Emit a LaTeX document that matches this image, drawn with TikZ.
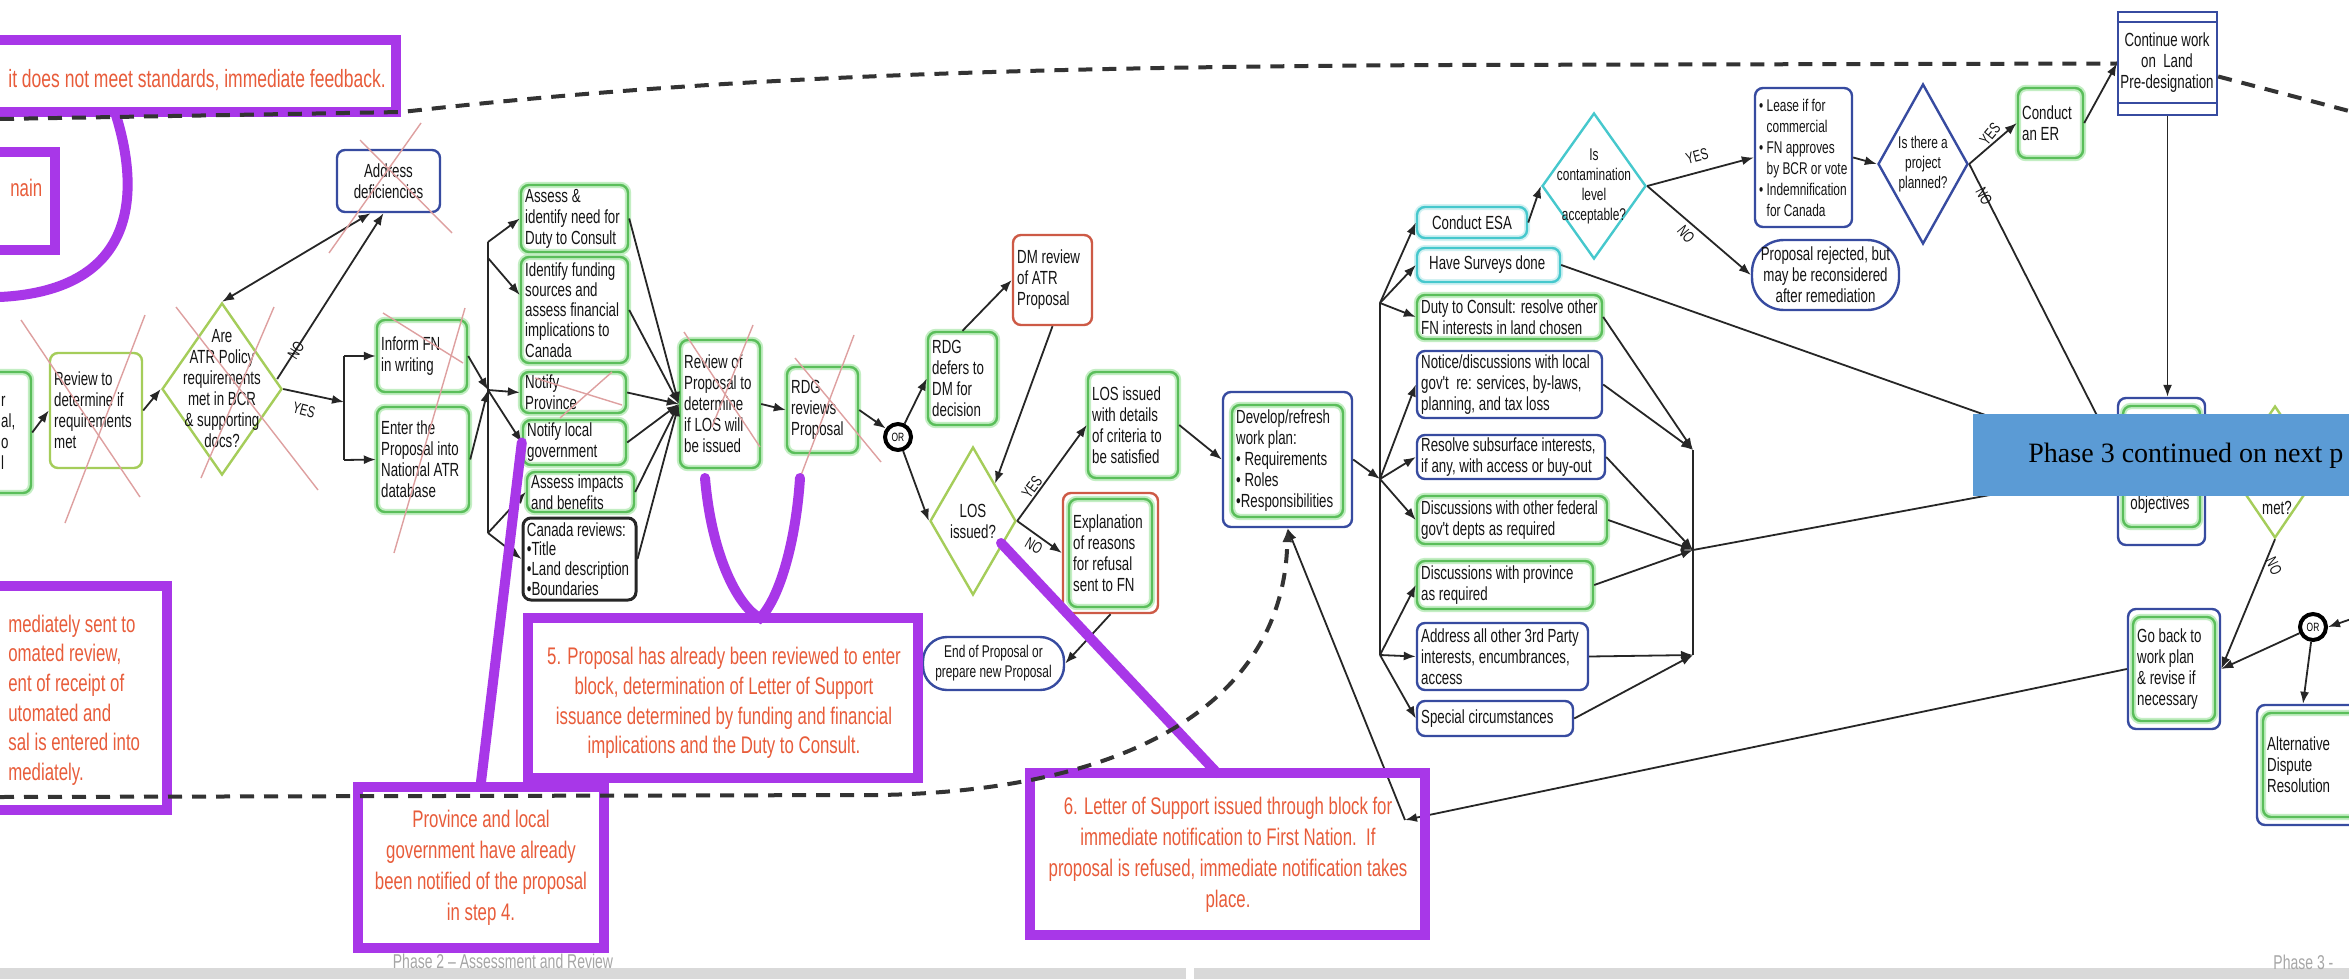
\documentclass[tikz,border=0pt]{standalone}
\usepackage{fontspec}
\usetikzlibrary{shapes.geometric,arrows.meta,calc}
\newfontfamily\nar{Liberation Sans}[FakeStretch=0.7]
\newfontfamily\serifb{Liberation Serif}
\definecolor{cGreen}{RGB}{90,190,90}
\definecolor{cGlow}{RGB}{195,238,195}
\definecolor{cYG}{RGB}{165,205,90}
\definecolor{cBlue}{RGB}{55,75,160}
\definecolor{cCyan}{RGB}{70,200,205}
\definecolor{cRed}{RGB}{205,90,70}
\definecolor{cPurple}{RGB}{168,55,232}
\definecolor{cAnno}{RGB}{232,92,58}
\definecolor{cX}{RGB}{222,160,160}
\definecolor{cBan}{RGB}{91,155,213}
\definecolor{cText}{RGB}{20,20,20}
\tikzset{
 bx/.style={draw, rounded corners=4pt, line width=1.2pt, inner sep=0pt},
 gbx/.style={bx, draw=cGreen, preaction={draw=cGlow, line width=3.2pt}},
 ygbx/.style={bx, draw=cYG},
 bbx/.style={bx, draw=cBlue},
 cbx/.style={bx, draw=cCyan, preaction={draw=cCyan!25, line width=3pt}},
 kbx/.style={bx, draw=black!85, line width=1.5pt},
 rbx/.style={bx, draw=cRed},
 txt/.style={align=left, inner sep=0pt, text=cText, font=\nar\fontsize{9.5}{10.5}\selectfont},
 txc/.style={txt, align=center},
 lab/.style={inner sep=0pt, text=cText, font=\nar\fontsize{8}{9}\selectfont},
 conn/.style={draw=black!85, line width=0.9pt, -{Latex[length=6pt,width=4.5pt]}},
 plain/.style={draw=black!85, line width=0.9pt},
 xcross/.style={draw=cX, line width=0.7pt},
 anno/.style={draw=cPurple, line width=5pt, inner sep=0pt},
 annotxt/.style={text=cAnno, inner sep=0pt, font=\nar\fontsize{12}{14.8}\selectfont},
 pline/.style={draw=cPurple, line width=5pt, line cap=round},
 dsh/.style={draw=black!80, line width=2pt, dash pattern=on 7pt off 5pt},
 orc/.style={circle, draw=black, line width=2pt, minimum size=13pt, inner sep=0pt, fill=white, font=\nar\fontsize{6}{6}\selectfont},
 dia/.style={diamond, draw, line width=1.2pt, inner sep=0pt},
}
\newcommand{\frm}[6]{%
 \pgfmathsetmacro{\mybw}{((#5)-(#3))*0.5}%
 \pgfmathsetmacro{\mybh}{((#6)-(#4))*0.5}%
 \node[#1, minimum width=\mybw pt, minimum height=\mybh pt] (#2) at ({((#3)+(#5))/2},{((#4)+(#6))/2}) {};}
\newcommand{\boxL}[8]{%
 \frm{#1}{#2}{#3}{#4}{#5}{#6}%
 \node[txt, anchor=west, #7] (#2-t) at ([xshift=2.5pt]#2.west) {#8};}
\newcommand{\boxC}[8]{%
 \frm{#1}{#2}{#3}{#4}{#5}{#6}%
 \node[txc, #7] (#2-t) at (#2.center) {#8};}
\newcommand{\dmd}[8]{%
 \pgfmathsetmacro{\mybw}{(#5)*0.5}%
 \pgfmathsetmacro{\mybh}{(#6)*0.5}%
 \node[dia, #1, minimum width=\mybw pt, minimum height=\mybh pt] (#2) at (#3,#4) {};%
 \node[txc, #7] (#2-t) at (#2.center) {#8};}
\begin{document}
\begin{tikzpicture}[x=0.5pt,y=-0.5pt]
\fill[white] (0,0) rectangle (2349,979);
\useasboundingbox (0,0) rectangle (2349,979);

% ---------------- Phase 2 nodes
\boxL{gbx}{l0}{-20}{372}{31}{493}{xshift=8.5pt}{r\\al,\\o\\l}
\boxL{ygbx}{r1}{50}{353}{142}{468}{}{Review to\\determine if\\requirements\\met}
\dmd{draw=cYG}{d1}{222}{389}{120}{172}{}{Are\\ATR Policy\\requirements\\met in BCR\\\& supporting\\docs?}
\boxC{bbx}{ad}{337}{150}{440}{212}{}{Address\\deficiencies}
\boxL{gbx}{ifn}{377}{320}{467}{392}{}{Inform FN\\in writing}
\boxL{gbx}{ent}{377}{407}{469}{512}{}{Enter the\\Proposal into\\National ATR\\database}
\boxL{gbx}{c1}{521}{185}{628}{252}{}{Assess \&\\identify need for\\Duty to Consult}
\boxL{gbx}{c2}{521}{257}{628}{363}{font=\nar\fontsize{9.5}{10.1}\selectfont}{Identify funding\\sources and\\assess financial\\implications to\\Canada}
\boxL{gbx}{c3}{521}{372}{626}{413}{}{Notify\\Province}
\boxL{gbx}{c4}{523}{420}{626}{465}{}{Notify local\\government}
\boxL{gbx}{c5}{527}{472}{634}{512}{}{Assess impacts\\and benefits}
\boxL{kbx}{c6}{523}{518}{636}{600}{font=\nar\fontsize{9.5}{9.8}\selectfont}{Canada reviews:\\•Title\\•Land description\\•Boundaries}
\boxL{gbx}{rp}{680}{340}{760}{468}{}{Review of\\Proposal to\\determine\\if LOS will\\be issued}
\boxL{gbx}{rr}{787}{367}{858}{453}{}{RDG\\reviews\\Proposal}
\node[orc] (or1) at (898,437) {OR};
\boxL{gbx}{rd}{928}{332}{997}{425}{}{RDG\\defers to\\DM for\\decision}
\boxL{rbx}{dm}{1013}{235}{1092}{325}{}{DM review\\of ATR\\Proposal}
\dmd{draw=cYG}{los}{973}{521}{86}{148}{}{LOS\\issued?}
\boxL{gbx}{ld}{1088}{372}{1178}{478}{}{LOS issued\\with details\\of criteria to\\be satisfied}
\frm{rbx}{ex}{1063}{493}{1158}{613}
\boxL{gbx}{exi}{1069}{499}{1152}{607}{}{Explanation\\of reasons\\for refusal\\sent to FN}
\boxC{bbx, rounded corners=12pt}{eop}{923}{637}{1064}{690}{font=\nar\fontsize{8.5}{10}\selectfont}{End of Proposal or\\prepare new Proposal}

% ---------------- Phase 3 nodes
\frm{bbx}{dev}{1223}{392}{1352}{527}
\boxL{gbx}{devi}{1232}{405}{1343}{517}{}{Develop/refresh\\work plan:\\• Requirements\\• Roles\\•Responsibilities}
\boxC{cbx}{esa}{1417}{207}{1527}{238}{}{Conduct ESA}
\boxL{cbx}{sur}{1417}{248}{1560}{282}{xshift=4pt}{Have Surveys done}
\boxL{gbx}{dtc}{1417}{295}{1602}{339}{}{Duty to Consult: resolve other\\FN interests in land chosen}
\boxL{bbx}{ntc}{1417}{351}{1602}{418}{}{Notice/discussions with local\\gov't~~re: services, by-laws,\\planning, and tax loss}
\boxL{bbx}{rsi}{1417}{435}{1605}{479}{}{Resolve subsurface interests,\\if any, with access or buy-out}
\boxL{gbx}{dfd}{1417}{496}{1607}{544}{}{Discussions with other federal\\gov't depts as required}
\boxL{gbx}{dpr}{1417}{561}{1593}{609}{}{Discussions with province\\as required}
\boxL{bbx}{a3p}{1417}{623}{1588}{690}{}{Address all other 3rd Party\\interests, encumbrances,\\access}
\boxL{bbx}{spc}{1417}{701}{1573}{736}{}{Special circumstances}
\dmd{draw=cCyan}{cont}{1594}{186}{104}{146}{font=\nar\fontsize{8.5}{10}\selectfont}{Is\\contamination\\level\\acceptable?}
\boxL{bbx}{lease}{1755}{88}{1852}{227}{font=\nar\fontsize{8.5}{10.5}\selectfont}{• Lease if for\\\phantom{• }commercial\\• FN approves\\\phantom{• }by BCR or vote\\• Indemnification\\\phantom{• }for Canada}
\boxC{bbx, rounded corners=16pt}{rej}{1752}{240}{1899}{310}{}{Proposal rejected, but\\may be reconsidered\\after remediation}
\dmd{draw=cBlue}{proj}{1923}{164}{90}{160}{font=\nar\fontsize{8.5}{10}\selectfont}{Is there a\\project\\planned?}
\boxL{gbx}{er}{2018}{88}{2083}{158}{}{Conduct\\an ER}
\frm{draw=cBlue, line width=1.2pt}{cwl}{2118}{12}{2217}{115}
\draw[draw=cBlue, line width=1.2pt] ($(cwl.north west)+(0,11)$) -- ($(cwl.north east)+(0,11)$);
\draw[draw=cBlue, line width=1.2pt] ($(cwl.south west)+(0,-13)$) -- ($(cwl.south east)+(0,-13)$);
\node[txc] (cwl-t) at (2167,63) {Continue work\\on~~Land\\Pre-designation};
\frm{bbx}{obj}{2118}{398}{2205}{545}
\frm{gbx}{obji}{2123}{406}{2200}{527}
\node[txc] (obj-t) at (2160,505) {objectives};
\node[dia, draw=cYG, minimum width=45pt, minimum height=66pt] (met) at (2275,472) {};
\node[txc] (met-t) at (2277,508) {met?};
\frm{bbx}{gb}{2128}{609}{2220}{729}
\boxL{gbx}{gbi}{2133}{617}{2215}{721}{}{Go back to\\work plan\\\& revise if\\necessary}
\node[orc] (or2) at (2313,627) {OR};
\frm{bbx}{adr}{2257}{705}{2365}{825}
\boxL{gbx}{adri}{2263}{713}{2360}{817}{}{Alternative\\Dispute\\Resolution}

% ---------------- connectors phase 2
\draw[conn] (l0.east) -- (r1.west);
\draw[conn] (r1.east) -- (d1.west);
\draw[plain, {Latex[length=6pt,width=4.5pt]}-{Latex[length=6pt,width=4.5pt]}] (d1.north) -- ($(ad.south)+(-18,0)$);
\draw[conn] ($(d1.east)+(-6,-10)$) -- ($(ad.south)+(-5,0)$);
\coordinate (bry) at (344,402);
\coordinate (br1) at (344,356);
\coordinate (br2) at (344,460);
\draw[conn] (d1.east) -- (bry);
\draw[plain] (br1) -- (br2);
\draw[conn] (br1) -- (ifn.west);
\draw[conn] (br2) -- (ent.west);
\coordinate (p1) at (488,390);
\draw[conn] (ifn.east) -- (p1);
\draw[conn] (ent.east) -- (p1);
\coordinate (ct) at (488,242);
\coordinate (cq) at (488,258);
\coordinate (cb) at (488,533);
\draw[plain] (ct) -- (cb);
\draw[conn] (ct) -- (c1.west);
\draw[conn] (cq) -- ($(c2.west)+(0,-15)$);
\draw[conn] (p1) -- (c3.west);
\draw[conn] (p1) -- (c4.west);
\draw[conn] (cb) -- (c5.west);
\draw[conn] (cb) -- (c6.west);
\foreach \n in {c1,c2,c3,c4,c5,c6} \draw[conn] (\n.east) -- (rp.west);
\draw[conn] (rp.east) -- (rr.west);
\draw[conn] (rr.east) -- (or1);
\draw[conn] (or1) -- (rd.west);
\draw[conn] (rd.north) -- (dm.west);
\draw[conn] (dm.south) -- (los.north east);
\draw[conn] (or1) -- (los.west);
\draw[conn] (los.east) -- (ld.west);
\draw[conn] (los.east) -- (ex.west);
\draw[conn] (ld.east) -- (dev.west);
\draw[conn] (ex.south) -- (eop.east);

% ---------------- connectors phase 3
\coordinate (s1) at (1380,303);
\coordinate (s2) at (1380,479);
\coordinate (s3) at (1380,655);
\draw[conn] (dev.east) -- (s2);
\draw[plain] (s1) -- (s3);
\foreach \n in {esa,sur,dtc} \draw[conn] (s1) -- (\n.west);
\foreach \n in {ntc,rsi,dfd} \draw[conn] (s2) -- (\n.west);
\foreach \n in {dpr,a3p,spc} \draw[conn] (s3) -- (\n.west);
\coordinate (m1) at (1693,450);
\coordinate (m2) at (1693,550);
\coordinate (m3) at (1693,655);
\draw[plain] (m1) -- (m3);
\foreach \n in {dtc,ntc} \draw[conn] (\n.east) -- (m1);
\foreach \n in {rsi,dfd,dpr} \draw[conn] (\n.east) -- (m2);
\foreach \n in {a3p,spc} \draw[conn] (\n.east) -- (m3);
\draw[conn] (m2) -- (obj.west);
\draw[conn] (sur.east) -- ($(obj.west)+(0,-10)$);
\draw[conn] (esa.east) -- (cont.west);
\draw[conn] (cont.east) -- (lease.west);
\draw[conn] (cont.east) -- (rej.west);
\draw[conn] (lease.east) -- (proj.west);
\draw[conn] (proj.east) -- (er.west);
\draw[conn] (proj.east) -- ($(obj.west)+(0,-17)$);
\draw[conn] (er.east) -- (cwl.west);
\draw[conn] (cwl.south) -- (cwl.south |- obj.north);
\draw[conn] (met.south) -- (gb.east);
\draw[conn] (or2) -- (gb.east);
\draw[conn] (or2) -- ($(adr.north)+(-8,0)$);
\coordinate (rin) at (2360,616);
\draw[conn] (rin) -- (or2.east);
\coordinate (jj) at (1405,820);
\draw[conn] (gb.west) -- (jj);
\draw[conn] (jj) -- (dev.south);

% ---------------- labels
\node[lab, rotate=57] (lno1) at (296,350) {NO};
\node[lab, rotate=-15] (lyes1) at (304,410) {YES};
\node[lab, rotate=53] (lyes2) at (1032,487) {YES};
\node[lab, rotate=-30] (lno2) at (1034,546) {NO};
\node[lab, rotate=15] (lyes3) at (1697,156) {YES};
\node[lab, rotate=-50] (lno3) at (1686,234) {NO};
\node[lab, rotate=50] (lyes4) at (1990,134) {YES};
\node[lab, rotate=-62] (lno4) at (1984,196) {NO};
\node[lab, rotate=-65] (lno5) at (2274,566) {NO};

% ---------------- crossing-out lines
\draw[xcross] (21,320) -- (140,497);
\draw[xcross] (145,315) -- (65,523);
\draw[xcross] (176,307) -- (318,490);
\draw[xcross] (274,307) -- (201,478);
\draw[xcross] (360,140) -- (452,233);
\draw[xcross] (421,123) -- (329,253);
\draw[xcross] (383,313) -- (463,363);
\draw[xcross] (465,308) -- (394,553);
\draw[xcross] (535,378) -- (622,405);
\draw[xcross] (612,372) -- (560,418);
\draw[xcross] (684,332) -- (760,447);
\draw[xcross] (753,325) -- (712,427);
\draw[xcross] (795,358) -- (881,462);
\draw[xcross] (854,335) -- (800,478);

% ---------------- footer
\fill[gray!30] (0,968) rectangle (2349,979);
\fill[white] (1186,966) rectangle (1194,979);
\node[font=\nar\fontsize{10}{11}\selectfont, text=gray!70, inner sep=0pt] (ph2) at (503,961) {Phase 2 – Assessment and Review};
\node[font=\nar\fontsize{10}{11}\selectfont, text=gray!70, inner sep=0pt, anchor=west] (ph3) at (2273,962) {Phase 3 -};

% ---------------- annotations
\frm{anno}{ptop}{-10}{40}{396}{112}
\node[annotxt, anchor=west, font=\nar\fontsize{12.5}{15}\selectfont] (ptop-t) at (8,80) {it does not meet standards, immediate feedback.};
\frm{anno}{pnain}{-10}{152}{55}{250}
\node[annotxt, anchor=west] (pnain-t) at (10,188) {nain};
\frm{anno}{pleft}{-10}{586}{167}{810}
\node[annotxt, anchor=west, align=left] (pleft-t) at (8,700) {mediately sent to\\omated review,\\ent of receipt of\\utomated and\\sal is entered into\\mediately.};
\frm{anno}{pprov}{358}{787}{604}{948}
\node[annotxt, align=center, font=\nar\fontsize{12}{15.5}\selectfont] (pprov-t) at (481,868) {Province and local\\government have already\\been notified of the proposal\\in step 4.};
\frm{anno}{p5}{528}{618}{918}{778}
\node[annotxt, align=center] (p5-t) at (724,703) {5. Proposal has already been reviewed to enter\\block, determination of Letter of Support\\issuance determined by funding and financial\\implications and the Duty to Consult.};
\frm{anno}{p6}{1030}{773}{1425}{935}
\node[annotxt, align=center, font=\nar\fontsize{12}{15.5}\selectfont] (p6-t) at (1228,855) {6. Letter of Support issued through block for\\immediate notification to First Nation.~~If\\proposal is refused, immediate notification takes\\place.};
\draw[pline] (115,112) .. controls (140,190) and (140,290) .. (0,297);
\draw[pline] (pprov.north) -- (c4.west);
\draw[pline] (705,478) .. controls (712,560) and (740,608) .. (760,618) .. controls (780,598) and (796,540) .. (800,478);
\draw[pline] (1001,543) -- (1217,773);

% ---------------- dashed lines
\coordinate (tl0) at (0,119);
\coordinate (bl0) at (0,797);
\coordinate (trr) at (2349,111);
\draw[dsh] (tl0) -- (402,112) .. controls (700,78) and (1000,67) .. (1450,65) -- (cwl.west);
\draw[dsh] ($(cwl.east)+(0,13)$) -- (trr);
\draw[dsh, -{Latex[length=7pt,width=5pt]}] (bl0) -- (880,795) .. controls (1150,790) and (1285,690) .. (dev.south);

% ---------------- banner
\frm{fill=cBan, draw=none}{ban}{1973}{414}{2370}{496}
\node[font=\serifb\fontsize{14}{14}\selectfont, anchor=west, inner sep=0pt] (ban-t) at (2028,456) {Phase 3 continued on next p};
\end{tikzpicture}
\end{document}
